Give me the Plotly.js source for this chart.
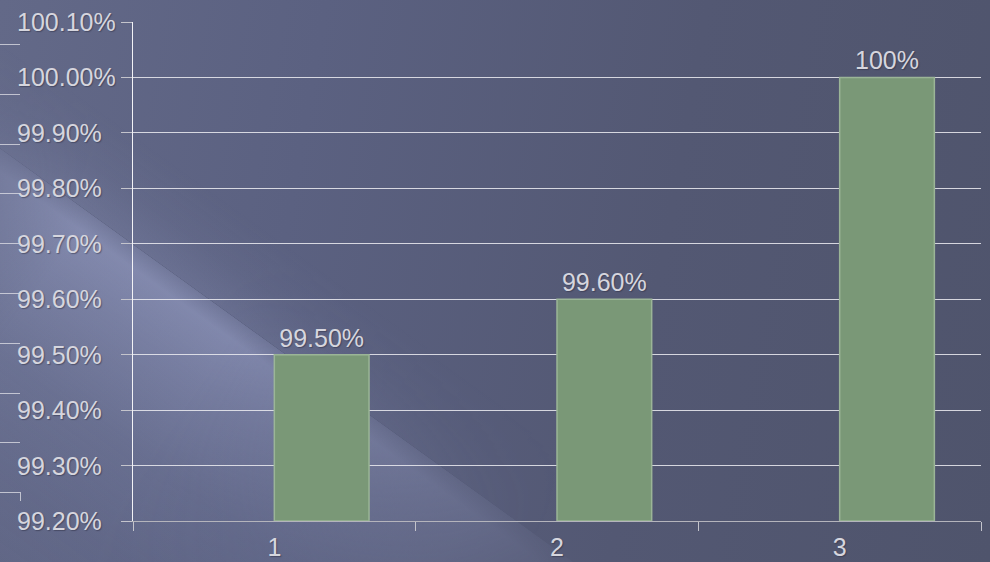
<!DOCTYPE html>
<html>
<head>
<meta charset="utf-8">
<script src="https://cdn.plot.ly/plotly-3.0.1.min.js"></script>
<style>
  html, body { margin:0; padding:0; width:990px; height:562px; overflow:hidden; background:#525770; }
  #bg { position:absolute; left:0; top:0; width:990px; height:562px; overflow:hidden;
        background: linear-gradient(100deg, #636988 0%, #5b6181 30%, #535873 65%, #4f546c 100%); }
  #streak { position:absolute; left:-300px; top:-68px; width:1150px; height:480px;
        transform-origin: 0 0; transform: rotate(35.8deg);
        background: linear-gradient(to bottom, rgba(180,188,230,0.24) 0%, rgba(180,188,230,0.42) 4%, rgba(175,183,225,0.32) 15%, rgba(165,175,218,0.15) 35%, rgba(160,170,215,0.05) 55%, rgba(160,170,215,0) 75%);
        -webkit-mask-image: linear-gradient(to right, transparent 22%, black 42%, black 58%, rgba(0,0,0,0.4) 84%, transparent 98%);
        mask-image: linear-gradient(to right, transparent 22%, black 42%, black 58%, rgba(0,0,0,0.4) 84%, transparent 98%); }
  #spill { position:absolute; left:-300px; top:-68px; width:1150px; height:90px;
        transform-origin: 0 0; transform: rotate(35.8deg) translateY(-90px);
        background: linear-gradient(to top, rgba(180,188,230,0.14) 0%, rgba(180,188,230,0.05) 45%, rgba(180,188,230,0) 100%);
        -webkit-mask-image: linear-gradient(to right, transparent 20%, black 40%, black 55%, transparent 90%);
        mask-image: linear-gradient(to right, transparent 20%, black 40%, black 55%, transparent 90%); }
  .deco { position:absolute; left:0; width:20px; height:1px; background:rgba(225,225,232,0.75); }
  #chart { position:absolute; left:0; top:0; width:990px; height:562px; }
</style>
</head>
<body>
<div id="bg"><div id="spill"></div><div id="streak"></div></div>
<div id="chart"></div>
<script>
// ---- data ----
const categories = ['1', '2', '3'];
const values = [99.5, 99.6, 100.0];
const valueLabels = ['99.50%', '99.60%', '100%'];
const yTickVals = [99.2, 99.3, 99.4, 99.5, 99.6, 99.7, 99.8, 99.9, 100.0, 100.1];
const yTickText = ['99.20%', '99.30%', '99.40%', '99.50%', '99.60%', '99.70%', '99.80%', '99.90%', '100.00%', '100.10%'];
const yMin = 99.2, yMax = 100.1;

// decorative template lines on the left edge
const bg = document.getElementById('bg');
for (let i = 0; i < 10; i++) {
  const d = document.createElement('div');
  d.className = 'deco';
  d.style.top = (44 + i * 49.8) + 'px';
  bg.appendChild(d);
}
const hook = document.createElement('div');
hook.style.cssText = 'position:absolute;left:20px;top:492px;width:1px;height:9px;background:rgba(225,225,232,0.75)';
bg.appendChild(hook);

const FONT = 'Liberation Sans, Arial, sans-serif';
const TXT = '#d6d6de';
const SHADOW = '1px 1px 1px rgba(40,40,60,0.45)';

const trace = {
  type: 'bar',
  x: categories,
  y: values.map(v => v - yMin),
  base: yMin,
  offset: 0,
  width: 0.335,
  text: valueLabels,
  textposition: 'outside',
  texttemplate: '%{text}',
  constraintext: 'none',
  cliponaxis: false,
  outsidetextfont: { family: FONT, size: 25, color: TXT, shadow: SHADOW },
  marker: { color: '#7a9877', line: { color: '#9bb597', width: 1.5 } },
  hoverinfo: 'none'
};

const annotations = yTickVals.map((v, i) => ({
  xref: 'paper', yref: 'y', x: 0, y: v,
  xanchor: 'left', yanchor: 'middle', xshift: -118,
  text: yTickText[i], showarrow: false,
  font: { family: FONT, size: 25, color: TXT, shadow: SHADOW }
}));

const layout = {
  width: 990, height: 562,
  margin: { l: 133, r: 9, t: 22, b: 41 },
  paper_bgcolor: 'rgba(0,0,0,0)',
  plot_bgcolor: 'rgba(0,0,0,0)',
  showlegend: false,
  font: { family: FONT, color: TXT },
  xaxis: {
    type: 'category', range: [-0.5, 2.5],
    tickson: 'boundaries', ticks: 'outside', ticklen: 9, tickcolor: '#c4c4cc', tickwidth: 1,
    ticklabelstandoff: 4,
    showgrid: false, zeroline: false,
    showline: true, linecolor: '#b4b4bc', linewidth: 1,
    tickfont: { family: FONT, size: 25, color: TXT, shadow: SHADOW }
  },
  yaxis: {
    range: [yMin, yMax], tickvals: yTickVals, showticklabels: false,
    ticks: 'outside', ticklen: 11, tickcolor: '#c4c4cc', tickwidth: 1,
    showgrid: true, gridcolor: 'rgba(232,232,238,0.88)', gridwidth: 1,
    zeroline: false, showline: true, linecolor: '#f2f2f6', linewidth: 1
  },
  annotations: annotations
};

Plotly.newPlot('chart', [trace], layout, { staticPlot: true, displayModeBar: false });
</script>
</body>
</html>
